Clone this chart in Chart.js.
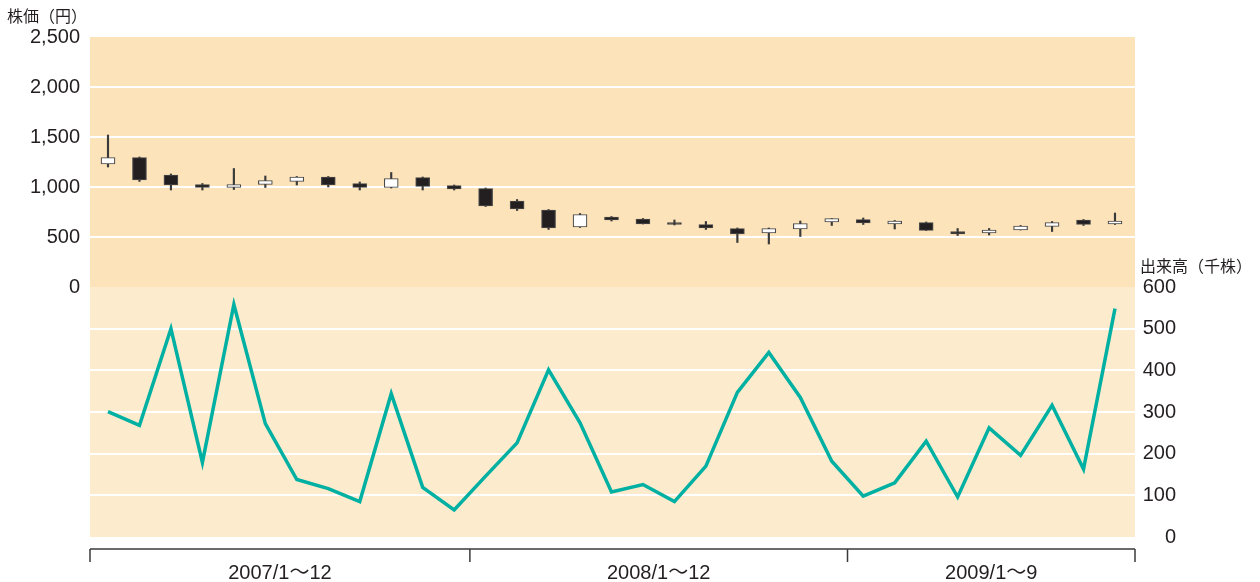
<!DOCTYPE html>
<html>
<head>
  <meta charset="utf-8">
  <title>株価・出来高</title>
  <style>
    body { margin: 0; background: #ffffff; }
    .chart-container { position: relative; width: 1260px; height: 582px; }
  </style>
</head>
<body>
  <div class="chart-container">
    <canvas id="myChart" width="1260" height="582"></canvas>
  </div>

  <script src="https://cdn.jsdelivr.net/npm/chart.js"></script>
  <script>
    // 資料定義區塊
    const months = [
      '2007/1', '2007/2', '2007/3', '2007/4', '2007/5', '2007/6', '2007/7', '2007/8', '2007/9', '2007/10', '2007/11', '2007/12',
      '2008/1', '2008/2', '2008/3', '2008/4', '2008/5', '2008/6', '2008/7', '2008/8', '2008/9', '2008/10', '2008/11', '2008/12',
      '2009/1', '2009/2', '2009/3', '2009/4', '2009/5', '2009/6', '2009/7', '2009/8', '2009/9'
    ];
    const openPrice = [1230, 1295, 1120, 1025, 995, 1025, 1055, 1100, 1035, 995, 1095, 1015,
      985, 860, 770, 600, 700, 680, 645, 625, 585, 540, 580, 650,
      675, 630, 645, 555, 540, 570, 605, 670, 630];
    const highPrice = [1520, 1300, 1130, 1035, 1185, 1110, 1105, 1105, 1050, 1145, 1100, 1020,
      990, 875, 775, 735, 705, 685, 670, 655, 590, 590, 660, 685,
      690, 665, 650, 585, 585, 615, 655, 675, 740];
    const lowPrice = [1200, 1055, 970, 970, 975, 995, 1020, 1000, 970, 990, 970, 970,
      805, 765, 575, 595, 660, 630, 620, 575, 445, 430, 505, 615,
      625, 580, 565, 515, 520, 570, 555, 615, 625];
    const closePrice = [1295, 1070, 1020, 995, 1025, 1065, 1100, 1020, 995, 1085, 1005, 980,
      810, 780, 590, 725, 670, 630, 625, 590, 530, 585, 635, 685,
      640, 660, 565, 530, 570, 610, 645, 625, 660];
    const volume = [301, 268, 500, 179, 558, 272, 138, 116, 85, 344, 119, 65,
      146, 226, 401, 274, 108, 126, 85, 170, 347, 443, 335, 182,
      98, 130, 230, 96, 262, 196, 316, 163, 548];

    const priceTicks = { min: -2500, max: 2500, step: 500 };
    const volumeTicks = { min: 0, max: 1200, step: 100, top: 600 };
    const groupLabels = ['2007/1〜12', '2008/1〜12', '2009/1〜9'];
    const groupSizes = [12, 12, 9];

    // 樣式定義區塊
    const FONT = '"Liberation Sans", Arial, "Noto Sans CJK JP", sans-serif';
    const JP_FONT = '"Noto Sans CJK JP", sans-serif';
    const textColor = '#231f20';
    const upperBg = '#fde3b9';
    const lowerBg = '#fdebcd';
    const lineColor = '#00b0a2';

    const isUp = (i) => closePrice[i] >= openPrice[i];

    // 背景・軸ラベル描画プラグイン
    const panelPlugin = {
      id: 'panelPlugin',
      beforeDraw(chart) {
        const { ctx, chartArea } = chart;
        const zeroY = chart.scales.yP.getPixelForValue(0);
        ctx.save();
        ctx.fillStyle = upperBg;
        ctx.fillRect(chartArea.left, chartArea.top, chartArea.right - chartArea.left, zeroY - chartArea.top);
        ctx.fillStyle = lowerBg;
        ctx.fillRect(chartArea.left, zeroY, chartArea.right - chartArea.left, chartArea.bottom - zeroY);
        ctx.restore();
      },
      afterDraw(chart) {
        const { ctx, chartArea } = chart;
        const x = chart.scales.x;
        const axisY = chartArea.bottom + 12;
        ctx.save();

        // 下の期間軸
        ctx.strokeStyle = '#3a3a3a';
        ctx.lineWidth = 1.5;
        ctx.beginPath();
        ctx.moveTo(chartArea.left, axisY);
        ctx.lineTo(chartArea.right, axisY);
        ctx.stroke();

        let start = 0;
        const edges = [chartArea.left];
        groupSizes.forEach((n) => {
          start += n;
          edges.push(start >= months.length ? chartArea.right : x.getPixelForValue(start - 0.5));
        });
        edges.forEach((ex) => {
          ctx.beginPath();
          ctx.moveTo(ex, axisY);
          ctx.lineTo(ex, axisY + 13);
          ctx.stroke();
        });

        ctx.fillStyle = textColor;
        ctx.font = '20px ' + FONT;
        ctx.textAlign = 'center';
        ctx.textBaseline = 'middle';
        groupLabels.forEach((t, i) => {
          ctx.fillText(t, (edges[i] + edges[i + 1]) / 2, axisY + 24);
        });

        // 軸タイトル
        ctx.font = '16px ' + JP_FONT;
        ctx.textAlign = 'left';
        ctx.textBaseline = 'middle';
        ctx.fillText('株価（円）', 7, 16);
        ctx.fillText('出来高（千株）', 1140, 266);
        ctx.restore();
      }
    };

    //參數設定區塊
    const data = {
      labels: months,
      datasets: [{
        // ローソク足の実体
        type: 'bar',
        label: '実体',
        yAxisID: 'yP',
        data: openPrice.map((o, i) => ({ x: i, y: [o, closePrice[i]] })),
        backgroundColor: (c) => isUp(c.dataIndex) ? '#ffffff' : '#231f20',
        borderColor: '#4a4a4a',
        borderWidth: 1.2,
        borderSkipped: false,
        barThickness: 14,
        grouped: false,
        order: 1
      }, {
        // ヒゲ
        type: 'bar',
        label: 'ヒゲ',
        yAxisID: 'yP',
        data: lowPrice.map((l, i) => ({ x: i, y: [l, highPrice[i]] })),
        backgroundColor: '#3a3a3a',
        borderWidth: 0,
        barThickness: 1.5,
        grouped: false,
        order: 2
      }, {
        type: 'line',
        label: '出来高',
        yAxisID: 'yV',
        data: volume.map((v, i) => ({ x: i, y: v })),
        borderColor: lineColor,
        borderWidth: 3.5,
        pointRadius: 0,
        tension: 0,
        order: 0
      }]
    };

    const config = {
      type: 'bar',
      data: data,
      plugins: [panelPlugin],
      options: {
        responsive: false,
        animation: false,
        layout: { padding: { top: 37, right: 84, bottom: 45, left: 0 } },
        plugins: {
          legend: { display: false },
          tooltip: { enabled: false }
        },
        scales: {
          x: {
            type: 'linear',
            min: -0.572,
            max: 32.636,
            offset: false,
            display: false
          },
          yP: {
            position: 'left',
            min: priceTicks.min,
            max: priceTicks.max,
            afterBuildTicks: (s) => { s.ticks = s.ticks.filter((t) => t.value >= 0); },
            afterFit: (s) => { s.width = 90; },
            ticks: {
              stepSize: priceTicks.step,
              padding: 10,
              color: textColor,
              font: { size: 20, family: FONT },
              callback: (v) => v.toLocaleString('en-US')
            },
            grid: {
              drawTicks: false,
              lineWidth: 2,
              color: (c) => (c.tick && c.tick.value > 0 && c.tick.value < priceTicks.max) ? '#ffffff' : 'rgba(0,0,0,0)'
            },
            border: { display: false }
          },
          yV: {
            position: 'right',
            min: volumeTicks.min,
            max: volumeTicks.max,
            afterBuildTicks: (s) => { s.ticks = s.ticks.filter((t) => t.value <= volumeTicks.top); },
            afterFit: (s) => { s.width = 41; },
            ticks: {
              stepSize: volumeTicks.step,
              crossAlign: 'far',
              color: textColor,
              font: { size: 20, family: FONT }
            },
            grid: {
              drawTicks: false,
              lineWidth: 2,
              color: (c) => (c.tick && c.tick.value > 0 && c.tick.value < volumeTicks.top) ? '#ffffff' : 'rgba(0,0,0,0)'
            },
            border: { display: false }
          }
        }
      }
    };

    //渲染圖表區塊
    var ctx = document.getElementById('myChart').getContext('2d');
    var myChart = new Chart(ctx, config);
  </script>
</body>
</html>
